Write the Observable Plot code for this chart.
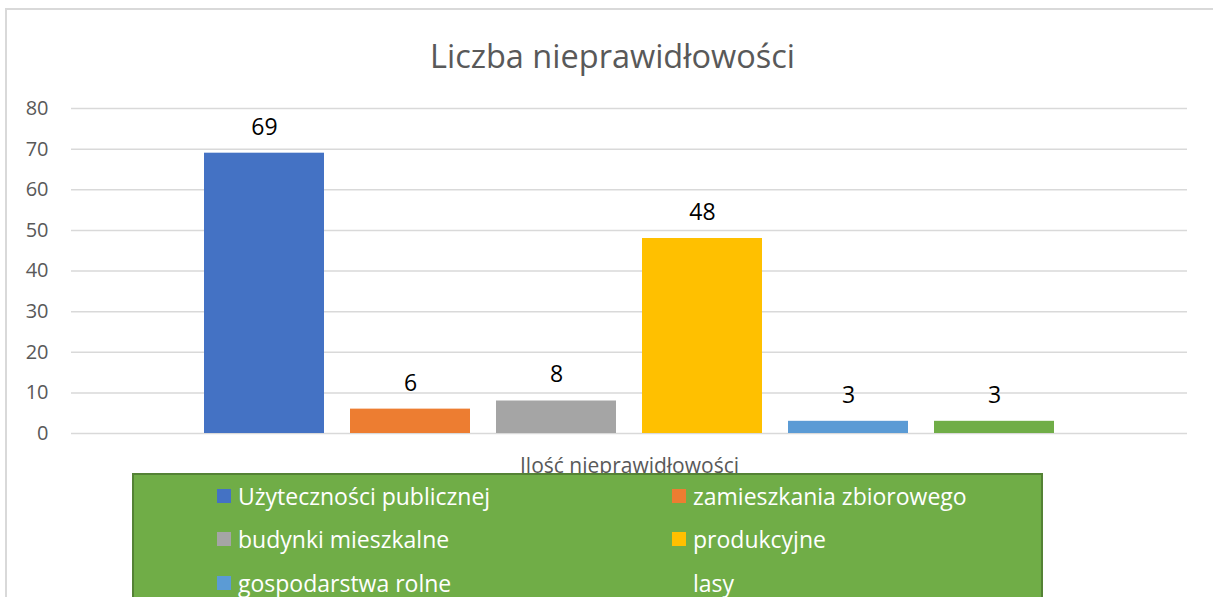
<!DOCTYPE html>
<html>
<head>
<meta charset="utf-8">
<script src="https://cdn.jsdelivr.net/npm/d3@7"></script>
<script src="https://cdn.jsdelivr.net/npm/@observablehq/plot@0.6"></script>
<style>
  html, body { margin: 0; padding: 0; background: #fff; }
  #wrap { position: relative; width: 1213px; height: 597px; overflow: hidden; font-family: "Open Sans", sans-serif; }
  #frame { position: absolute; left: 5px; top: 8px; width: 1300px; height: 700px; border: 2px solid #d9d9d9; box-sizing: border-box; }
  #title { position: absolute; left: 6px; width: 1213px; top: 40px; text-align: center; font-size: 32.5px; line-height: 32px; color: #595959; }
  #chart { position: absolute; left: 0; top: 0; }
  #legend { position: absolute; left: 132px; top: 473px; width: 911px; height: 200px; background: #70AD47; border: 2px solid #548235; box-sizing: border-box; }
  .item { position: absolute; display: flex; align-items: center; height: 30px; color: #fff; font-size: 23px; white-space: nowrap; }
  .sw { width: 14px; height: 14px; margin-right: 7px; flex: none; }
</style>
</head>
<body>
<div id="wrap">
  <div id="frame"></div>
  <div id="chart"></div>
  <div id="title"></div>
  <div id="legend"></div>
</div>
<script>
const chartTitle = "Liczba nieprawidłowości";
const categories = ["Ilość nieprawidłowości"];
const series = ["Użyteczności publicznej", "zamieszkania zbiorowego", "budynki mieszkalne", "produkcyjne", "gospodarstwa rolne", "lasy"];
const values = [69, 6, 8, 48, 3, 3];
const colors = ["#4472C4", "#ED7D31", "#A5A5A5", "#FFC000", "#5B9BD5", "#70AD47"];
const yTicks = [0, 10, 20, 30, 40, 50, 60, 70, 80];

const data = series.map((s, i) => ({category: categories[0], series: s, value: values[i]}));

document.getElementById("title").textContent = chartTitle;

const chart = Plot.plot({
  width: 1213,
  height: 470,
  marginTop: 108,
  marginLeft: 71,
  marginRight: 26,
  marginBottom: 37,
  style: {fontFamily: "'Open Sans', sans-serif", background: "transparent", overflow: "visible"},
  fx: {domain: categories, paddingInner: 0, paddingOuter: 0, label: null, axis: null},
  x: {domain: series, paddingInner: 0.18, paddingOuter: 0.9, axis: null},
  y: {domain: [0, 80], label: null},
  color: {domain: series, range: colors},
  marks: [
    Plot.gridY(yTicks, {stroke: "#d9d9d9", strokeOpacity: 1, strokeWidth: 1.5}),
    Plot.axisY(yTicks, {tickSize: 0, tickPadding: 23, fontSize: 20, fill: "#595959", label: null}),
    Plot.axisFx({anchor: "bottom", tickSize: 0, tickPadding: 25, fontSize: 21, fill: "#595959", label: null}),
    Plot.barY(data, {fx: "category", x: "series", y: "value", fill: "series"}),
    Plot.text(data, {fx: "category", x: "series", y: "value", text: "value", dy: -26, fontSize: 23, fill: "#000"})
  ]
});
document.getElementById("chart").appendChild(chart);

// Legend built from series + colors
const legend = d3.select("#legend");
const colX = [217, 672];
const rowY = [495.5, 539, 582.5];
series.forEach((s, i) => {
  const col = i % 2, row = Math.floor(i / 2);
  const item = legend.append("div").attr("class", "item")
    .style("left", (colX[col] - 132 - 2) + "px")
    .style("top", (rowY[row] - 473 - 2 - 15) + "px");
  item.append("div").attr("class", "sw").style("background", colors[i]);
  item.append("span").text(s);
});
</script>
</body>
</html>
